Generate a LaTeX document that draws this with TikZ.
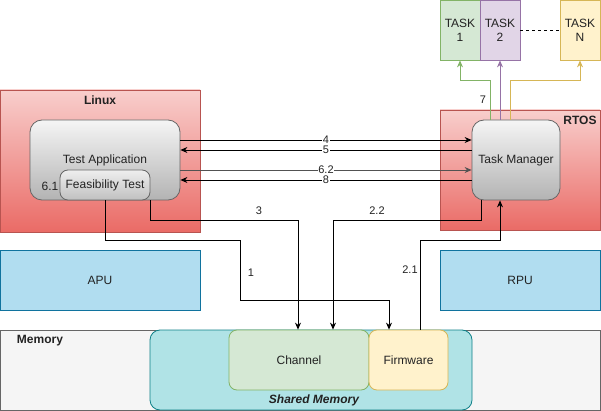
\documentclass[tikz,border=0pt]{standalone}
\usepackage{fontspec}
\setmainfont{Liberation Sans}
\usetikzlibrary{arrows.meta}
\definecolor{redS}{HTML}{B85450}
\definecolor{redT}{HTML}{F8CECC}
\definecolor{redB}{HTML}{EA6B66}
\definecolor{grayS}{HTML}{666666}
\definecolor{grayT}{HTML}{F5F5F5}
\definecolor{grayB}{HTML}{B3B3B3}
\definecolor{blueF}{HTML}{B1DDF0}
\definecolor{blueS}{HTML}{10739E}
\definecolor{tealF}{HTML}{B0E3E6}
\definecolor{tealS}{HTML}{0E8088}
\definecolor{greenF}{HTML}{D5E8D4}
\definecolor{greenS}{HTML}{82B366}
\definecolor{purpF}{HTML}{E1D5E7}
\definecolor{purpS}{HTML}{9673A6}
\definecolor{yelF}{HTML}{FFF2CC}
\definecolor{yelS}{HTML}{D6B656}
\definecolor{txt}{HTML}{222222}
\tikzset{
  box/.style={draw, line width=0.8pt, inner sep=0pt, minimum width=#1},
  osbox/.style={draw=redS, line width=0.8pt, top color=redT, bottom color=redB, inner sep=0pt},
  appbox/.style={draw=grayS, line width=0.8pt, top color=grayT, bottom color=grayB, rounded corners=12pt, inner sep=0pt},
  pubox/.style={draw=blueS, fill=blueF, line width=0.8pt, inner sep=0pt},
  taskbox/.style={draw=#1S, fill=#1F, line width=0.8pt, inner sep=0pt, minimum width=40pt, minimum height=60pt, align=center, font=\fontsize{12}{14}\selectfont, text=txt},
  lbl/.style={font=\fontsize{12}{14}\selectfont, text=txt, inner sep=0pt},
  blbl/.style={font=\fontsize{12}{14}\selectfont\bfseries, text=txt, inner sep=0pt},
  elbl/.style={font=\fontsize{11}{13}\selectfont, text=txt, inner sep=0.5pt},
  wlbl/.style={font=\fontsize{11}{13}\selectfont, text=txt, fill=white, inner sep=0.5pt},
  arr/.style={line width=0.8pt, -{Stealth[length=7pt,width=6pt]}},
  ln/.style={line width=0.8pt},
}
\begin{document}
\begin{tikzpicture}[x=1pt,y=-1pt]
\useasboundingbox (0,0) rectangle (601,411);
% OS boxes
\node[osbox, minimum width=200pt, minimum height=142pt] (linux) at (100,161) {};
\node[blbl] (linuxlbl) at (100,100) {Linux};
\node[osbox, minimum width=160pt, minimum height=120pt] (rtos) at (520,170) {};
\node[blbl] (rtoslbl) at (580,120) {RTOS};
% processors
\node[pubox, minimum width=200pt, minimum height=60pt, lbl] (apu) at (100,280) {APU};
\node[pubox, minimum width=160pt, minimum height=60pt, lbl] (rpu) at (520,280) {RPU};
% memory
\node[draw=grayS, fill=grayT, line width=0.8pt, minimum width=600pt, minimum height=80pt, inner sep=0pt] (mem) at (300,370) {};
\node[blbl] (memlbl) at (40,341) {Memory};
\node[draw=tealS, fill=tealF, line width=0.8pt, rounded corners=10pt, minimum width=322pt, minimum height=80pt, inner sep=0pt] (shm) at (311,370) {};
\node[font=\fontsize{12}{14}\selectfont\bfseries\itshape, text=txt, inner sep=0pt] (shmlbl) at (314,400) {Shared Memory};
\node[draw=greenS, fill=greenF, line width=0.8pt, rounded corners=8pt, minimum width=140pt, minimum height=60pt, inner sep=0pt, lbl] (channel) at (299,360) {Channel};
\node[draw=yelS, fill=yelF, line width=0.8pt, rounded corners=8pt, minimum width=79pt, minimum height=60pt, inner sep=0pt, lbl] (fw) at (408.5,360) {Firmware};
% test application
\node[appbox, minimum width=150pt, minimum height=80pt] (testapp) at (105,160) {};
\node[lbl] (testapplbl) at (105,160) {Test Application};
\node[draw=grayS, line width=0.8pt, top color=grayT!90!grayB, bottom color=grayB!80!grayT, rounded corners=8pt, minimum width=90pt, minimum height=30pt, inner sep=0pt, lbl] (feas) at (105,185) {Feasibility Test};
\node[lbl] (l61) at (50,186) {6.1};
% task manager
\node[appbox, minimum width=88pt, minimum height=80pt, lbl] (tm) at (516,160) {Task Manager};
% tasks
\node[taskbox=green] (task1) at (460,30) {TASK\\1};
\node[taskbox=purp] (task2) at (500,30) {TASK\\2};
\node[taskbox=yel] (taskn) at (580,30) {TASK\\N};
\draw[ln, dashed] (task2.east) -- (taskn.west);
% horizontal messages
\draw[arr] (testapp.east |- 0,140) -- node[wlbl] (l4) {4} (tm.west |- 0,140);
\draw[arr] (tm.west |- 0,150) -- node[wlbl] (l5) {5} (testapp.east |- 0,150);
\draw[arr, draw=grayS!80!black] (testapp.east |- 0,170) -- node[wlbl] (l62) {6.2} (tm.west |- 0,170);
\draw[arr] (tm.west |- 0,180) -- node[wlbl] (l8) {8} (testapp.east |- 0,180);
% vertical flows
\draw[arr] (150,0 |- testapp.south) -- (150,220) -- (298,220) -- (298,0 |- channel.north);
\node[elbl] (l3) at (259,211) {3};
\draw[arr] (feas.south) -- (105,240) -- (240,240) -- (240,300) -- (389,300) -- (389,0 |- fw.north);
\node[elbl] (l1) at (251,273) {1};
\draw[arr] (481,0 |- tm.south) -- (481,220) -- (333,220) -- (333,0 |- channel.north);
\node[elbl] (l22) at (377,211) {2.2};
\draw[arr] (420,0 |- fw.north) -- (420,240) -- (500,240) -- (500,0 |- tm.south);
\node[elbl] (l21) at (410,270) {2.1};
% task arrows
\draw[arr, draw=greenS] (490,0 |- tm.north) -- (490,80) -- (460,80) -- (task1.south);
\draw[arr, draw=purpS] (500,0 |- tm.north) -- (task2.south);
\draw[arr, draw=yelS] (510,0 |- tm.north) -- (510,80) -- (580,80) -- (taskn.south);
\node[elbl] (l7) at (483,100) {7};
\end{tikzpicture}
\end{document}
